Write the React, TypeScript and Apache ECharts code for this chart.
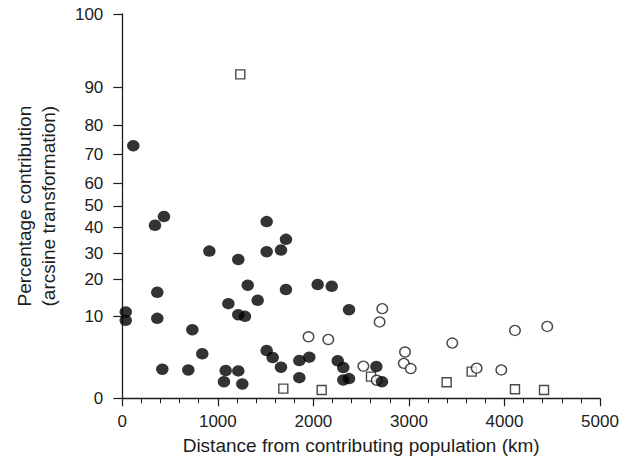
import React, { useEffect, useRef } from "react";
import * as echarts from "echarts";

// Y axis is on an arcsine-transformed scale (0–90 units); tick labels are percentages
const yTickLabels = [0, 10, 20, 30, 40, 50, 60, 70, 80, 90, 100];
const yTickPositions = [0, 19.19, 27.82, 33.86, 40.11, 45.05, 50.39, 57.04, 63.86, 72.89, 90];

const xTickLabels = [0, 1000, 2000, 3000, 4000, 5000];

// [distance km, arcsine-transformed contribution]
const filledCircles: [number, number][] = [
  [115, 59.16], [342, 40.51], [436, 42.56], [911, 34.47], [1511, 41.38],
  [1511, 34.33], [1661, 34.71], [1713, 37.22], [1214, 32.52], [1313, 26.48],
  [1713, 25.46], [1417, 22.95], [1110, 22.17], [1214, 19.59], [1284, 19.19],
  [36, 20.22], [36, 18.25], [366, 24.83], [366, 18.72], [733, 16.06],
  [837, 10.42], [419, 6.82], [691, 6.65], [1082, 6.49], [1214, 6.42],
  [1064, 3.9], [1256, 3.36], [1511, 11.19], [1574, 9.55], [1661, 7.29],
  [1853, 8.84], [1853, 4.84], [1957, 9.64], [2045, 26.64], [2192, 26.24],
  [2373, 20.76], [2255, 8.77], [2313, 7.19], [2313, 4.3], [2373, 4.61],
  [2659, 7.43], [2718, 3.9],
];

const openCircles: [number, number][] = [
  [1949, 14.41], [2156, 13.78], [2721, 21.0], [2693, 17.89], [2523, 7.52],
  [2663, 4.23], [2959, 10.84], [2946, 8.18], [3019, 6.96], [3454, 12.93],
  [3709, 7.05], [3967, 6.65], [4110, 15.89], [4448, 16.84],
];

const openSquares: [number, number][] = [
  [1235, 75.85], [1685, 2.26], [2087, 1.95], [2603, 5.08], [3395, 3.76],
  [3657, 6.25], [4110, 2.12], [4414, 1.95],
];

const INK = "#1c1c1c";
const FONT = "'Liberation Sans', Arial, Helvetica, sans-serif";

export default function App() {
  const ref = useRef<HTMLDivElement>(null);
  useEffect(() => {
    if (!ref.current) return;
    const chart = echarts.init(ref.current, null, { renderer: "svg" });
    chart.setOption({
      animation: false,
      backgroundColor: "#ffffff",
      textStyle: { fontFamily: FONT },
      grid: { left: 122.3, right: 30, top: 14, bottom: 71.7, containLabel: false },
      xAxis: {
        type: "value",
        min: xTickLabels[0],
        max: xTickLabels[xTickLabels.length - 1],
        interval: 1000,
        name: "Distance from contributing population (km)",
        nameLocation: "middle",
        nameGap: 38,
        nameTextStyle: { color: INK, fontSize: 19, fontFamily: FONT },
        axisLine: { lineStyle: { color: INK, width: 1.3 } },
        axisTick: { length: 8, lineStyle: { color: INK, width: 1.2 } },
        minorTick: { show: true, splitNumber: 5, length: 5, lineStyle: { color: INK, width: 1 } },
        axisLabel: {
          color: INK,
          fontSize: 17,
          margin: 15,
          fontFamily: FONT,
          formatter: (v: number) => String(v),
        },
        splitLine: { show: false },
      },
      yAxis: {
        type: "value",
        min: 0,
        max: 90,
        name: "Percentage contribution\n(arcsine transformation)",
        nameLocation: "middle",
        nameGap: 62.5,
        nameTextStyle: { color: INK, fontSize: 19, lineHeight: 23.5, fontFamily: FONT },
        axisLine: { show: true, lineStyle: { color: INK, width: 1.3 } },
        axisTick: { show: true, length: 9, customValues: yTickPositions, lineStyle: { color: INK, width: 1.2 } },
        axisLabel: {
          color: INK,
          fontSize: 17,
          margin: 19,
          fontFamily: FONT,
          customValues: yTickPositions,
          formatter: (v: number) => {
            const i = yTickPositions.findIndex((p) => Math.abs(p - v) < 1e-6);
            return i >= 0 ? String(yTickLabels[i]) : "";
          },
        },
        splitLine: { show: false },
      },
      series: [
        {
          type: "scatter",
          name: "squares",
          data: openSquares,
          symbol: "rect",
          symbolSize: 9,
          z: 2,
          itemStyle: { color: "#ffffff", borderColor: INK, borderWidth: 1.4 },
        },
        {
          type: "scatter",
          name: "open",
          data: openCircles,
          symbol: "circle",
          symbolSize: [10.5, 10],
          z: 3,
          itemStyle: { color: "#ffffff", borderColor: INK, borderWidth: 1.4 },
        },
        {
          type: "scatter",
          name: "filled",
          data: filledCircles,
          symbol: "circle",
          symbolSize: [12.5, 11.5],
          z: 4,
          itemStyle: { color: "#000000", borderColor: "#000000", borderWidth: 0 },
        },
      ],
    });
    return () => chart.dispose();
  }, []);
  return (
    <div
      ref={ref}
      style={{ position: "fixed", left: 0, top: 0, width: 630, height: 470, background: "#fff" }}
    />
  );
}
